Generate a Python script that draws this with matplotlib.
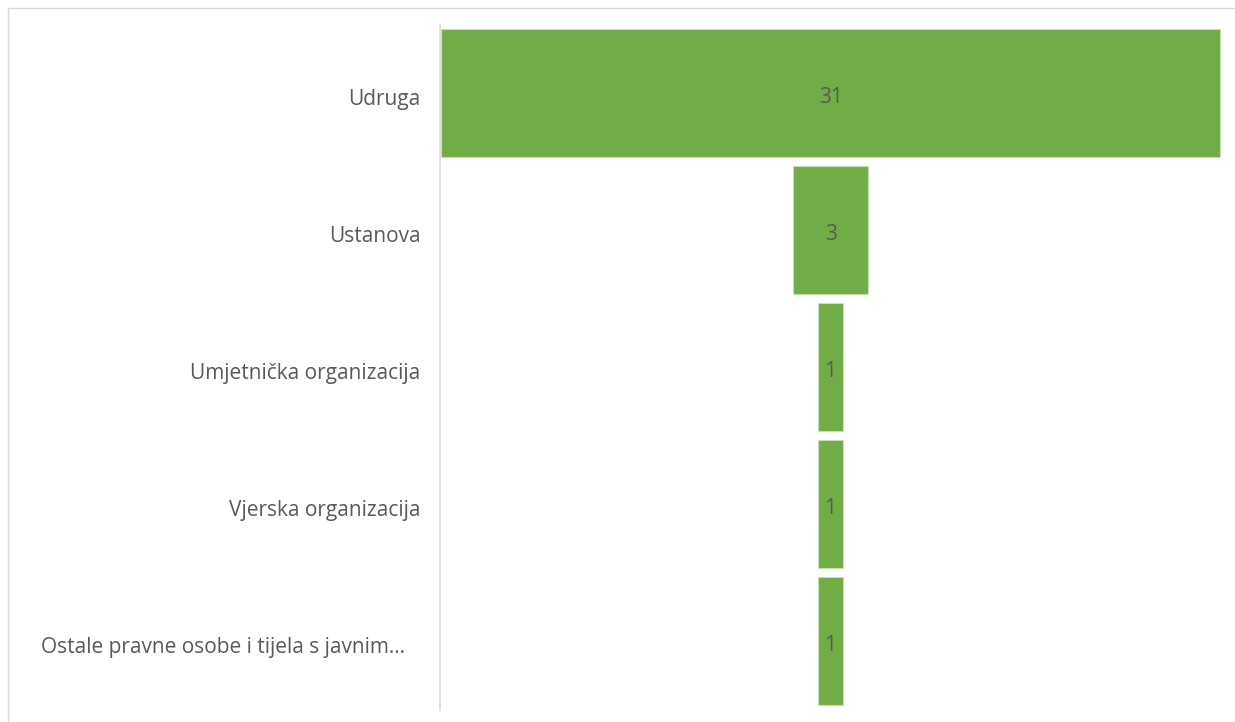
import matplotlib.pyplot as plt
from matplotlib.patches import Rectangle
import matplotlib.transforms as mtransforms

plt.rcParams['font.family'] = ['Open Sans', 'DejaVu Sans']

categories = ['Udruga', 'Ustanova', 'Umjetnička organizacija',
              'Vjerska organizacija', 'Ostale pravne osobe i tijela s javnim…']
values = [31, 3, 1, 1, 1]

W, H = 1235, 722
fig = plt.figure(figsize=(W / 100, H / 100), dpi=100)

# light chart border (top / left visible only)
fig.patches.append(Rectangle((8 / W, -0.1), 1.2, (H - 8) / H + 0.1,
                             transform=fig.transFigure, fill=False,
                             edgecolor='#d9d9d9', linewidth=1))

ax = fig.add_axes([440 / W, 12.5 / H, (1221 - 440) / W, 685 / H])

pos = list(range(len(categories)))
lefts = [-v / 2 for v in values]
ax.barh(pos, values, left=lefts, height=0.934, color='#70ad47',
        edgecolor='#c5e0b4', linewidth=0.8)

shift = mtransforms.ScaledTranslation(0, -3 / 72, fig.dpi_scale_trans)
for p, v in zip(pos, values):
    ax.text(0, p, str(v), ha='center', va='center', fontsize=15, color='#595959',
            transform=ax.transData + shift)

ax.set_xlim(-max(values) / 2 - 0.05, max(values) / 2 + 0.05)
ax.set_ylim(len(categories) - 0.5, -0.5)
ax.set_yticks(pos)
ax.set_yticklabels(categories, fontsize=15, color='#595959')
ax.tick_params(axis='y', length=0, pad=14)
labs = ax.get_yticklabels()
for lab in labs:
    lab.set_transform(lab.get_transform() + shift)
# truncated label sits a bit further left
labs[-1].set_transform(labs[-1].get_transform() +
                       mtransforms.ScaledTranslation(-0.16, 0, fig.dpi_scale_trans))
ax.set_xticks([])
for s in ['top', 'right', 'bottom']:
    ax.spines[s].set_visible(False)
ax.spines['left'].set_color('#d9d9d9')
ax.spines['left'].set_linewidth(1.2)

fig.savefig('out.png', dpi=100)
